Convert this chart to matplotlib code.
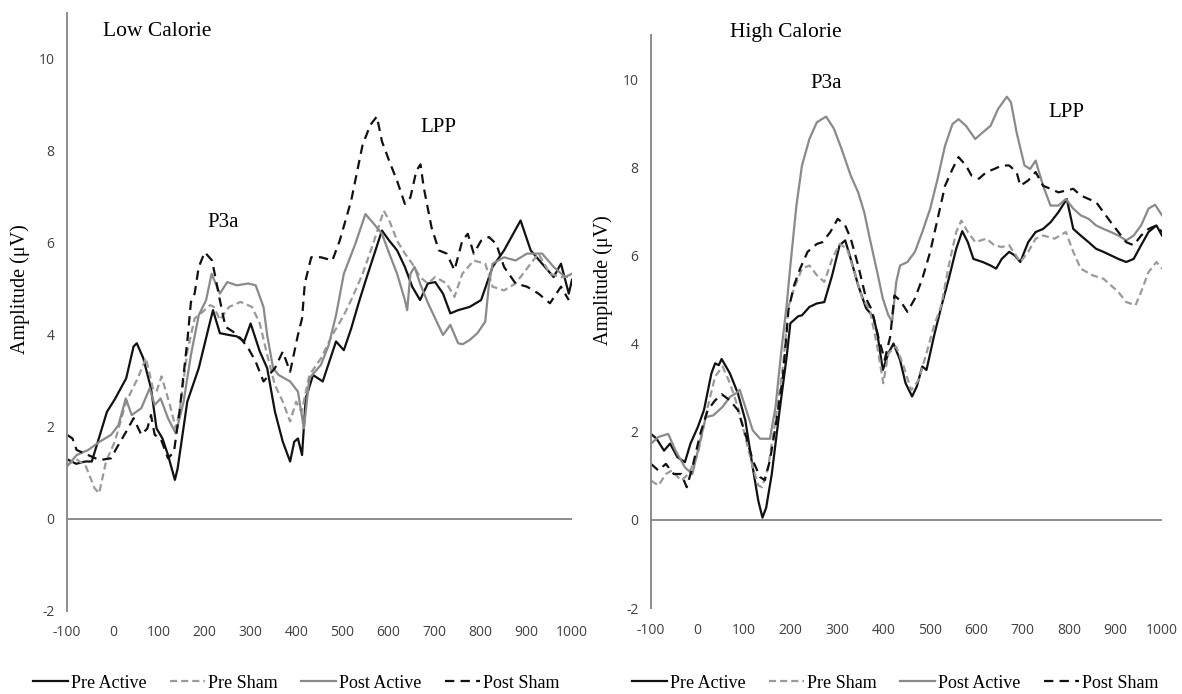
import matplotlib
matplotlib.use("Agg")
import matplotlib.pyplot as plt
from matplotlib.lines import Line2D

plt.rcParams['axes.unicode_minus'] = False

# ---- Low calorie ERP waveforms (ms, uV) ----
low_pre_active_ms = [-100, -80, -60, -46, -13, 4, 29, 45, 52, 66, 83, 95, 108, 120, 135, 141, 162, 187, 208, 218,
                     233, 253, 270, 286, 300, 320, 336, 353, 370, 386, 395, 403, 412, 420, 436, 457, 486, 503, 519,
                     536, 553, 586, 602, 619, 636, 652, 669, 686, 702, 719, 735, 752, 777, 802, 827, 852, 888, 910,
                     935, 960, 976, 993, 1000]
low_pre_active_uv = [1.3, 1.2, 1.25, 1.25, 2.33, 2.6, 3.06, 3.75, 3.82, 3.5, 2.84, 1.97, 1.75, 1.39, 0.85, 1.1, 2.55,
                     3.28, 4.14, 4.54, 4.04, 4.0, 3.97, 3.86, 4.25, 3.64, 3.28, 2.33, 1.68, 1.25, 1.68, 1.75, 1.39,
                     2.62, 3.13, 2.99, 3.86, 3.67, 4.14, 4.72, 5.26, 6.27, 6.05, 5.84, 5.48, 5.05, 4.76, 5.12, 5.15,
                     4.9, 4.47, 4.54, 4.61, 4.76, 5.48, 5.84, 6.49, 5.84, 5.55, 5.26, 5.55, 4.9, 5.2]

low_pre_sham_ms = [-100, -80, -60, -40, -30, -15, 4, 29, 54, 72, 87, 95, 106, 124, 137, 145, 162, 178, 195, 212, 220,
                   233, 253, 278, 303, 320, 336, 353, 370, 386, 399, 411, 428, 453, 478, 503, 519, 544, 569, 590,
                   602, 619, 636, 652, 669, 686, 702, 727, 744, 761, 786, 811, 827, 852, 877, 910, 927, 952, 976, 1000]
low_pre_sham_uv = [1.17, 1.3, 1.17, 0.67, 0.56, 1.25, 1.68, 2.55, 3.06, 3.5, 2.84, 2.77, 3.1, 2.48, 1.97, 2.33, 3.64,
                   4.36, 4.5, 4.65, 4.61, 4.33, 4.61, 4.72, 4.61, 4.25, 3.57, 2.91, 2.55, 2.12, 2.55, 2.33, 3.13, 3.49,
                   4.0, 4.43, 4.76, 5.33, 6.05, 6.7, 6.49, 6.05, 5.77, 5.55, 5.26, 5.12, 5.26, 5.12, 4.83, 5.33, 5.62,
                   5.55, 5.05, 4.97, 5.12, 5.55, 5.77, 5.33, 5.26, 5.26]

low_post_active_ms = [-100, -79, -54, -29, -4, 12, 28, 41, 62, 80, 91, 104, 120, 137, 154, 170, 187, 203, 215, 233,
                      249, 270, 295, 311, 328, 336, 349, 361, 386, 403, 416, 428, 453, 470, 486, 503, 528, 550, 569,
                      586, 602, 619, 636, 641, 648, 657, 669, 686, 702, 719, 735, 752, 762, 777, 794, 811, 819, 827,
                      852, 877, 902, 935, 960, 985, 1000]
low_post_active_uv = [1.14, 1.39, 1.5, 1.68, 1.83, 2.04, 2.62, 2.26, 2.41, 2.84, 2.48, 2.62, 2.19, 1.86, 2.55, 3.57,
                      4.43, 4.76, 5.33, 4.9, 5.15, 5.08, 5.12, 5.08, 4.61, 4.0, 3.28, 3.13, 2.99, 2.77, 1.97, 3.06,
                      3.35, 3.78, 4.43, 5.33, 5.98, 6.63, 6.41, 6.2, 5.77, 5.33, 4.76, 4.54, 5.33, 5.48, 5.12, 4.7,
                      4.36, 4.0, 4.22, 3.82, 3.8, 3.89, 4.04, 4.29, 5.09, 5.55, 5.69, 5.62, 5.77, 5.77, 5.48, 5.26, 5.33]

low_post_sham_ms = [-100, -88, -79, -54, -29, -4, 8, 29, 45, 62, 75, 83, 91, 104, 120, 133, 145, 162, 170, 178, 187,
                    200, 216, 233, 245, 262, 278, 295, 311, 328, 353, 370, 386, 403, 412, 418, 432, 453, 478, 494, 519,
                    544, 561, 575, 586, 602, 619, 636, 648, 661, 670, 677, 694, 710, 727, 744, 761, 773, 786, 802, 819,
                    835, 852, 877, 902, 927, 952, 976, 993]
low_post_sham_uv = [1.83, 1.75, 1.5, 1.39, 1.28, 1.32, 1.54, 1.9, 2.19, 1.83, 1.97, 2.26, 1.83, 1.75, 1.32, 1.46, 2.33,
                    3.86, 4.72, 4.9, 5.48, 5.8, 5.62, 4.76, 4.18, 4.07, 3.93, 3.71, 3.42, 2.99, 3.28, 3.64, 3.2, 4.0,
                    4.36, 5.12, 5.69, 5.69, 5.62, 6.05, 6.92, 8.14, 8.57, 8.75, 8.21, 7.78, 7.35, 6.85, 6.99, 7.57,
                    7.71, 7.21, 6.34, 5.84, 5.77, 5.41, 6.05, 6.2, 5.77, 6.05, 6.13, 5.98, 5.48, 5.12, 5.05, 4.9, 4.69,
                    5.05, 4.76]

# ---- High calorie ERP waveforms (ms, uV) ----
high_pre_active_ms = [-100, -88, -72, -59, -43, -27, -15, 1, 14, 30, 38, 46, 52, 70, 87, 103, 119, 131, 140, 148, 160,
                      176, 192, 200, 217, 225, 241, 257, 273, 290, 306, 318, 330, 346, 363, 379, 387, 399, 411, 422,
                      436, 448, 462, 472, 484, 493, 509, 525, 541, 557, 570, 582, 594, 614, 631, 643, 655, 671, 683,
                      695, 712, 728, 744, 760, 777, 795, 809, 825, 842, 858, 874, 890, 906, 923, 939, 955, 971, 988, 1000]
high_pre_active_uv = [1.95, 1.84, 1.57, 1.73, 1.42, 1.31, 1.73, 2.11, 2.49, 3.32, 3.55, 3.51, 3.65, 3.32, 2.87, 2.26,
                      1.19, 0.43, 0.05, 0.28, 1.04, 2.41, 3.7, 4.46, 4.62, 4.64, 4.83, 4.91, 4.94, 5.55, 6.23, 6.34,
                      5.92, 5.32, 4.8, 4.6, 4.24, 3.4, 3.78, 4.0, 3.63, 3.1, 2.8, 3.02, 3.48, 3.4, 4.16, 4.84, 5.47,
                      6.15, 6.55, 6.3, 5.92, 5.85, 5.77, 5.7, 5.92, 6.08, 6.0, 5.85, 6.3, 6.53, 6.6, 6.75, 6.98, 7.28,
                      6.6, 6.45, 6.3, 6.15, 6.08, 6.0, 5.92, 5.85, 5.92, 6.23, 6.53, 6.68, 6.45]

high_pre_sham_ms = [-100, -84, -68, -55, -35, -19, 1, 22, 38, 54, 70, 87, 103, 119, 131, 139, 152, 168, 184, 196, 208,
                    225, 241, 257, 273, 290, 306, 322, 338, 355, 371, 387, 400, 411, 428, 444, 460, 476, 493, 509, 525,
                    541, 557, 568, 582, 598, 622, 639, 655, 671, 695, 712, 728, 744, 769, 793, 809, 825, 850, 874, 890,
                    906, 923, 943, 955, 971, 988, 1000]
high_pre_sham_uv = [0.89, 0.78, 1.04, 1.12, 0.89, 1.04, 1.5, 2.56, 3.25, 3.48, 3.1, 2.56, 1.88, 1.19, 0.78, 0.74, 1.19,
                    2.26, 3.48, 4.84, 5.25, 5.7, 5.77, 5.55, 5.4, 5.92, 6.26, 6.15, 5.62, 5.02, 4.77, 3.93, 3.1, 3.78,
                    3.93, 3.48, 2.94, 3.17, 3.78, 4.39, 4.87, 5.77, 6.53, 6.79, 6.53, 6.3, 6.38, 6.23, 6.19, 6.23, 5.85,
                    6.08, 6.38, 6.45, 6.38, 6.53, 6.08, 5.7, 5.55, 5.47, 5.32, 5.17, 4.94, 4.87, 5.17, 5.62, 5.85, 5.7]

high_post_active_ms = [-100, -84, -63, -47, -27, -11, 6, 18, 34, 54, 70, 83, 91, 103, 119, 135, 156, 168, 180, 192,
                       200, 213, 225, 241, 257, 277, 294, 310, 330, 346, 359, 371, 387, 399, 411, 419, 428, 436, 452,
                       468, 484, 501, 517, 533, 549, 562, 578, 598, 614, 631, 647, 666, 675, 687, 704, 716, 728, 744,
                       760, 777, 793, 809, 825, 842, 858, 874, 890, 906, 923, 939, 955, 971, 985, 1000]
high_post_active_uv = [1.73, 1.88, 1.95, 1.57, 1.19, 1.04, 1.8, 2.33, 2.37, 2.56, 2.79, 2.87, 2.95, 2.56, 2.03, 1.84,
                       1.84, 2.56, 3.78, 4.87, 5.77, 7.13, 8.04, 8.64, 9.02, 9.15, 8.87, 8.42, 7.81, 7.43, 6.98, 6.38,
                       5.62, 5.02, 4.64, 4.5, 5.4, 5.77, 5.85, 6.08, 6.53, 7.06, 7.74, 8.49, 8.98, 9.09, 8.94, 8.64,
                       8.79, 8.94, 9.32, 9.6, 9.47, 8.79, 8.04, 7.96, 8.15, 7.58, 7.13, 7.13, 7.28, 7.06, 6.91, 6.83,
                       6.68, 6.6, 6.53, 6.45, 6.34, 6.45, 6.68, 7.06, 7.15, 6.91]

high_post_sham_ms = [-100, -84, -68, -51, -35, -23, -11, 6, 22, 38, 52, 70, 87, 103, 119, 135, 145, 156, 168, 184, 196,
                     208, 221, 237, 257, 269, 286, 302, 318, 330, 346, 363, 375, 387, 403, 415, 424, 436, 452, 468,
                     484, 501, 517, 533, 549, 562, 578, 590, 606, 622, 639, 655, 671, 687, 695, 712, 728, 744, 760,
                     777, 793, 809, 825, 842, 858, 874, 890, 906, 923, 939, 955, 971, 988, 1000]
high_post_sham_uv = [1.27, 1.12, 1.27, 1.04, 1.04, 0.74, 1.19, 1.95, 2.49, 2.71, 2.85, 2.71, 2.49, 1.95, 1.35, 0.97,
                     0.9, 1.35, 2.11, 3.25, 4.77, 5.32, 5.7, 6.08, 6.26, 6.3, 6.53, 6.83, 6.68, 6.38, 5.77, 5.02, 4.77,
                     4.24, 3.63, 4.16, 5.09, 4.98, 4.72, 5.02, 5.47, 6.08, 6.83, 7.58, 7.96, 8.23, 8.04, 7.81, 7.74,
                     7.89, 7.96, 8.04, 8.04, 7.89, 7.58, 7.7, 7.89, 7.58, 7.51, 7.43, 7.47, 7.51, 7.36, 7.28, 7.21,
                     6.98, 6.75, 6.53, 6.3, 6.23, 6.45, 6.6, 6.68, 6.53]

series_names = ['Pre Active', 'Pre Sham', 'Post Active', 'Post Sham']
x_ticks = list(range(-100, 1001, 100))
y_ticks = list(range(-2, 11, 2))

# line look for each condition
styles = {
    'Pre Active': dict(color='#111111', linestyle='-', lw=1.6),
    'Pre Sham': dict(color='#9a9a9a', linestyle=(0, (3.2, 1.8)), lw=1.6),
    'Post Active': dict(color='#8a8a8a', linestyle='-', lw=1.6),
    'Post Sham': dict(color='#111111', linestyle=(0, (4.2, 2.8)), lw=1.6),
}

serif = 'Liberation Serif'
tick_font = 'Open Sans'
W, H = 1182, 694

fig = plt.figure(figsize=(W / 100, H / 100), dpi=100)
ax1 = fig.add_axes([67 / W, 1 - 611 / H, (572 - 67) / W, (611 - 13) / H])
ax2 = fig.add_axes([651 / W, 1 - 608 / H, (1162 - 651) / W, (608 - 35) / H])

low = [(low_pre_active_ms, low_pre_active_uv), (low_pre_sham_ms, low_pre_sham_uv),
       (low_post_active_ms, low_post_active_uv), (low_post_sham_ms, low_post_sham_uv)]
high = [(high_pre_active_ms, high_pre_active_uv), (high_pre_sham_ms, high_pre_sham_uv),
        (high_post_active_ms, high_post_active_uv), (high_post_sham_ms, high_post_sham_uv)]

for ax, data, xpad in ((ax1, low, 10), (ax2, high, 11)):
    for name, (t, v) in zip(series_names, data):
        ax.plot(t, v, label=name, **styles[name])
    ax.axhline(0, color='#8c8c8c', lw=1.4, zorder=1)
    ax.set_xlim(-100, 1000)
    ax.set_ylim(-2, 11)
    ax.set_xticks(x_ticks)
    ax.set_yticks(y_ticks)
    for s in ('top', 'right', 'bottom'):
        ax.spines[s].set_visible(False)
    ax.spines['left'].set_color('#8c8c8c')
    ax.spines['left'].set_linewidth(1.4)
    ax.tick_params(axis='both', length=0, labelsize=10, labelcolor='#404040')
    ax.tick_params(axis='y', pad=9)
    ax.tick_params(axis='x', pad=xpad)
    for lab in ax.get_xticklabels() + ax.get_yticklabels():
        lab.set_fontfamily(tick_font)
    ax.patch.set_alpha(0)

# panel titles and component labels
fig.text(103 / W, 1 - 32 / H, 'Low Calorie', family=serif, fontsize=15.5, ha='left', va='center')
fig.text(730 / W, 1 - 32 / H, 'High Calorie', family=serif, fontsize=15.5, ha='left', va='center')
ax1.text(241, 6.44, 'P3a', family=serif, fontsize=15, ha='center', va='center')
ax1.text(708, 8.52, 'LPP', family=serif, fontsize=15, ha='center', va='center')
ax2.text(277, 9.89, 'P3a', family=serif, fontsize=15, ha='center', va='center')
ax2.text(794, 9.25, 'LPP', family=serif, fontsize=15, ha='center', va='center')

fig.text(20 / W, 1 - 289 / H, 'Amplitude (μV)', family=serif, fontsize=14.5, rotation=90,
         ha='center', va='center')
fig.text(603 / W, 1 - 280 / H, 'Amplitude (μV)', family=serif, fontsize=14.5, rotation=90,
         ha='center', va='center')

handles = [Line2D([0], [0], **styles[n]) for n in series_names]
for cx in (296 / W, 895 / W):
    fig.legend(handles, series_names, loc='center', bbox_to_anchor=(cx, 1 - 683 / H), ncol=4,
               frameon=False, handlelength=1.95, handletextpad=0.15, columnspacing=1.3, borderpad=0,
               prop={'family': serif, 'size': 13})

fig.savefig('out.png', dpi=100, facecolor='white')
